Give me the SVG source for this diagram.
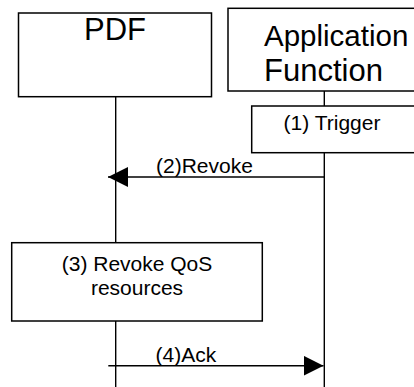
<svg xmlns="http://www.w3.org/2000/svg" width="414" height="387" viewBox="0 0 414 387">
<style>
.box{fill:#fff;stroke:#000;stroke-width:1.5}
.ln{stroke:#000;stroke-width:1.4;fill:none}
.big{font-family:"Liberation Sans",Arial,sans-serif;font-size:31px;fill:#000}
.sm{font-family:"Liberation Sans",Arial,sans-serif;font-size:21px;fill:#000}
</style>
<defs>
<marker id="ah" markerWidth="20" markerHeight="20" refX="20" refY="10" orient="auto" markerUnits="userSpaceOnUse">
<path d="M0,0 L20,10 L0,20 Z" fill="#000"/>
</marker>
</defs>
<rect width="414" height="387" fill="#fff"/>
<g id="connectors">
<line class="ln" x1="115.7" y1="96.7" x2="115.7" y2="242.7"/>
<line class="ln" x1="115.7" y1="321" x2="115.7" y2="387"/>
<line class="ln" x1="324.3" y1="91" x2="324.3" y2="106"/>
<line class="ln" x1="324.3" y1="152.7" x2="324.3" y2="387"/>
<line class="ln" x1="324.3" y1="177" x2="108" y2="177" marker-end="url(#ah)"/>
<line class="ln" x1="108.3" y1="365.7" x2="323.5" y2="365.7" marker-end="url(#ah)"/>
<text class="sm" x="156" y="172.5">(2)Revoke</text>
<text class="sm" x="155.5" y="362">(4)Ack</text>
</g>
<g id="pdf">
<rect class="box" x="18.5" y="13" width="193" height="83.7"/>
<text class="big" x="115" y="39.5" text-anchor="middle">PDF</text>
</g>
<g id="af">
<rect class="box" x="228" y="8.3" width="200" height="82.7"/>
<text class="big" x="264" y="45.5" style="font-size:29.5px">Application</text>
<text class="big" x="264" y="80.5">Function</text>
</g>
<g id="trigger">
<rect class="box" x="251.7" y="106" width="170" height="46.7"/>
<text class="sm" x="332" y="130" text-anchor="middle">(1) Trigger</text>
</g>
<g id="revoke-qos">
<rect class="box" x="11.7" y="242.7" width="250.6" height="78.3"/>
<text class="sm" x="137" y="270.5" text-anchor="middle">(3) Revoke QoS</text>
<text class="sm" x="137" y="295" text-anchor="middle">resources</text>
</g>
</svg>
